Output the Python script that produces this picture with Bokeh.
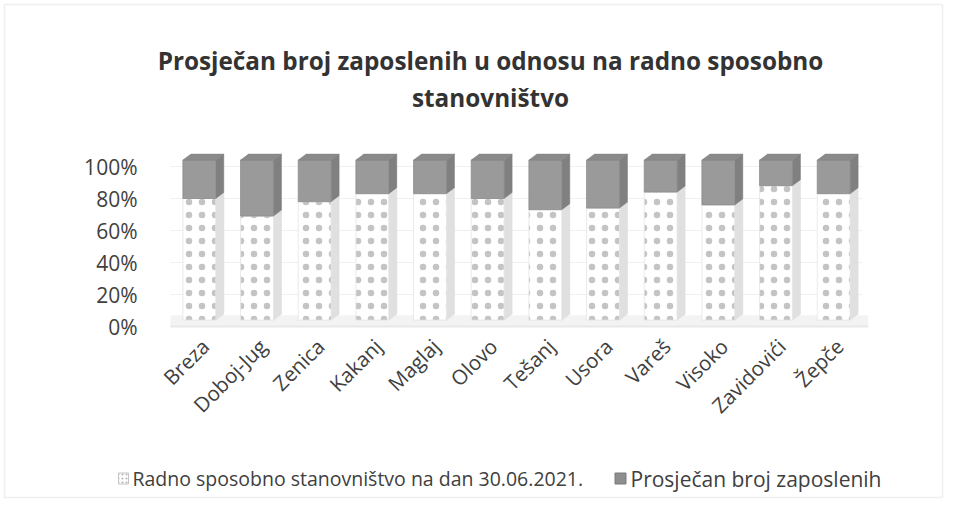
from bokeh.plotting import figure
from bokeh.models import Range1d
from bokeh.core.properties import value
from bokeh.embed import file_html
from bokeh.resources import INLINE
from math import pi

# ---- data ----
categories = ["Breza", "Doboj-Jug", "Zenica", "Kakanj", "Maglaj", "Olovo",
              "Tešanj", "Usora", "Vareš", "Visoko", "Zavidovići", "Žepče"]
radno_sposobno_share = [0.76, 0.65, 0.74, 0.79, 0.79, 0.76,
                        0.69, 0.70, 0.80, 0.72, 0.84, 0.79]
zaposleni_share = [round(1 - v, 2) for v in radno_sposobno_share]
y_ticks = [0, 0.2, 0.4, 0.6, 0.8, 1.0]
y_tick_labels = ["0%", "20%", "40%", "60%", "80%", "100%"]
series_names = ["Radno sposobno stanovništvo na dan 30.06.2021.",
                "Prosječan broj zaposlenih"]
title_lines = ["Prosječan broj zaposlenih u odnosu na radno sposobno",
               "stanovništvo"]

FONT = "Open Sans"
TXT = "#404040"

# ---- canvas / scale set-up (pixel layout constants) ----
CW, CH = 946, 501          # canvas size
X0, PX_X = 170, 57.667     # pixel x of category edge 0, pixels per category
Y0, PX_Y = 326, 160        # pixel y of 0 %, pixels per 100 %


def ux(px):   # pixel x -> data x
    return (px - X0) / PX_X


def uy(py):   # pixel y -> data y
    return (Y0 - py) / PX_Y


# ---- geometry (3D look) ----
W = 0.57     # bar width (categories)
B = 0.04     # front face base offset
DX = 0.139   # depth in x
DY = 0.0375  # depth in y

n = len(categories)
xc = [i + 0.5 for i in range(n)]
bnd = [B + v for v in radno_sposobno_share]
tops = [B + v + z for v, z in zip(radno_sposobno_share, zaposleni_share)]

p = figure(width=CW, height=CH, output_backend="svg", toolbar_location=None,
           x_range=Range1d(ux(0), ux(CW)), y_range=Range1d(uy(CH), uy(0)),
           x_axis_location=None, y_axis_location=None,
           min_border_left=0, min_border_right=0, min_border_top=0, min_border_bottom=0)
p.outline_line_color = None
p.background_fill_color = "white"
p.border_fill_color = "white"
p.xgrid.grid_line_color = None
p.ygrid.grid_line_color = None

# faint outer chart border
p.rect(x=[ux(CW / 2)], y=[uy(CH / 2)], width=ux(CW - 4) - ux(4), height=uy(4) - uy(CH - 4),
       fill_color=None, line_color="#efefef", line_width=1.5)

# gridlines (back wall)
p.multi_line([[0, n] for _ in y_ticks], [[t, t] for t in y_ticks],
             line_color="#f0f0f0", line_width=1)

# floor
p.patch([0.0, n + 0.1, n + 0.1, 0.0], [0.0, 0.0, 0.07, 0.07],
        fill_color="#f3f3f3", line_color=None)
p.line([0.0, n + 0.1], [0.0, 0.0], line_color="#e8e8e8", line_width=2)

# side / top faces
side_w_xs, side_w_ys, side_g_xs, side_g_ys, top_xs, top_ys = [], [], [], [], [], []
for x, b, t in zip(xc, bnd, tops):
    r = x + W / 2
    l = x - W / 2
    side_w_xs.append([r, r + DX, r + DX, r])
    side_w_ys.append([B, B + DY, b + DY, b])
    side_g_xs.append([r, r + DX, r + DX, r])
    side_g_ys.append([b, b + DY, t + DY, t])
    top_xs.append([l, l + DX, r + DX, r])
    top_ys.append([t, t + DY, t + DY, t])

p.patches(side_w_xs, side_w_ys, fill_color="#e0e0e0", line_color="#d8d8d8", line_width=0.5)
p.patches(side_g_xs, side_g_ys, fill_color="#808080", line_color="#787878", line_width=0.5)

# front faces
p.vbar(x=xc, width=W, bottom=B, top=bnd, fill_color="white",
       line_color="#e4e4e4", line_width=0.8,
       hatch_pattern="dot", hatch_color="#c4c4c4", hatch_scale=13, hatch_weight=0.8)
p.vbar(x=xc, width=W, bottom=bnd, top=tops, fill_color="#9a9a9a",
       line_color="#8c8c8c", line_width=0.8)
p.patches(top_xs, top_ys, fill_color="#8a8a8a", line_color="#808080", line_width=0.5)

# y tick labels
p.text(x=[ux(137)] * len(y_ticks), y=y_ticks, text=y_tick_labels,
       text_font=value(FONT), text_font_size="21px", text_color=TXT,
       text_align="right", text_baseline="middle")

# x category labels (rotated 45 degrees)
p.text(x=[x + 0.1 for x in xc], y=[uy(342)] * n, text=categories, angle=pi / 4,
       text_font=value(FONT), text_font_size="20.5px", text_color=TXT,
       text_align="right", text_baseline="middle")

# title
p.text(x=[ux(490), ux(490)], y=[uy(60), uy(97)], text=title_lines,
       text_font=value(FONT), text_font_size="24.3px", text_font_style="bold",
       text_color="#333333", text_align="center", text_baseline="middle")

# legend
p.rect(x=[ux(123)], y=[uy(478)], width=10 / PX_X, height=11 / PX_Y, fill_color="white",
       line_color="#c4c4c4", line_width=1, hatch_pattern="dot",
       hatch_color="#b0b0b0", hatch_scale=4, hatch_weight=0.8)
p.rect(x=[ux(620)], y=[uy(478)], width=11 / PX_X, height=11 / PX_Y, fill_color="#8e8e8e",
       line_color="#7a7a7a", line_width=1)
p.text(x=[ux(132)], y=[uy(478)], text=series_names[:1],
       text_font=value(FONT), text_font_size="19.5px", text_color=TXT,
       text_baseline="middle", text_align="left")
p.text(x=[ux(630)], y=[uy(478)], text=series_names[1:],
       text_font=value(FONT), text_font_size="21px", text_color=TXT,
       text_baseline="middle", text_align="left")

open("out.html", "w").write(file_html(p, INLINE))
